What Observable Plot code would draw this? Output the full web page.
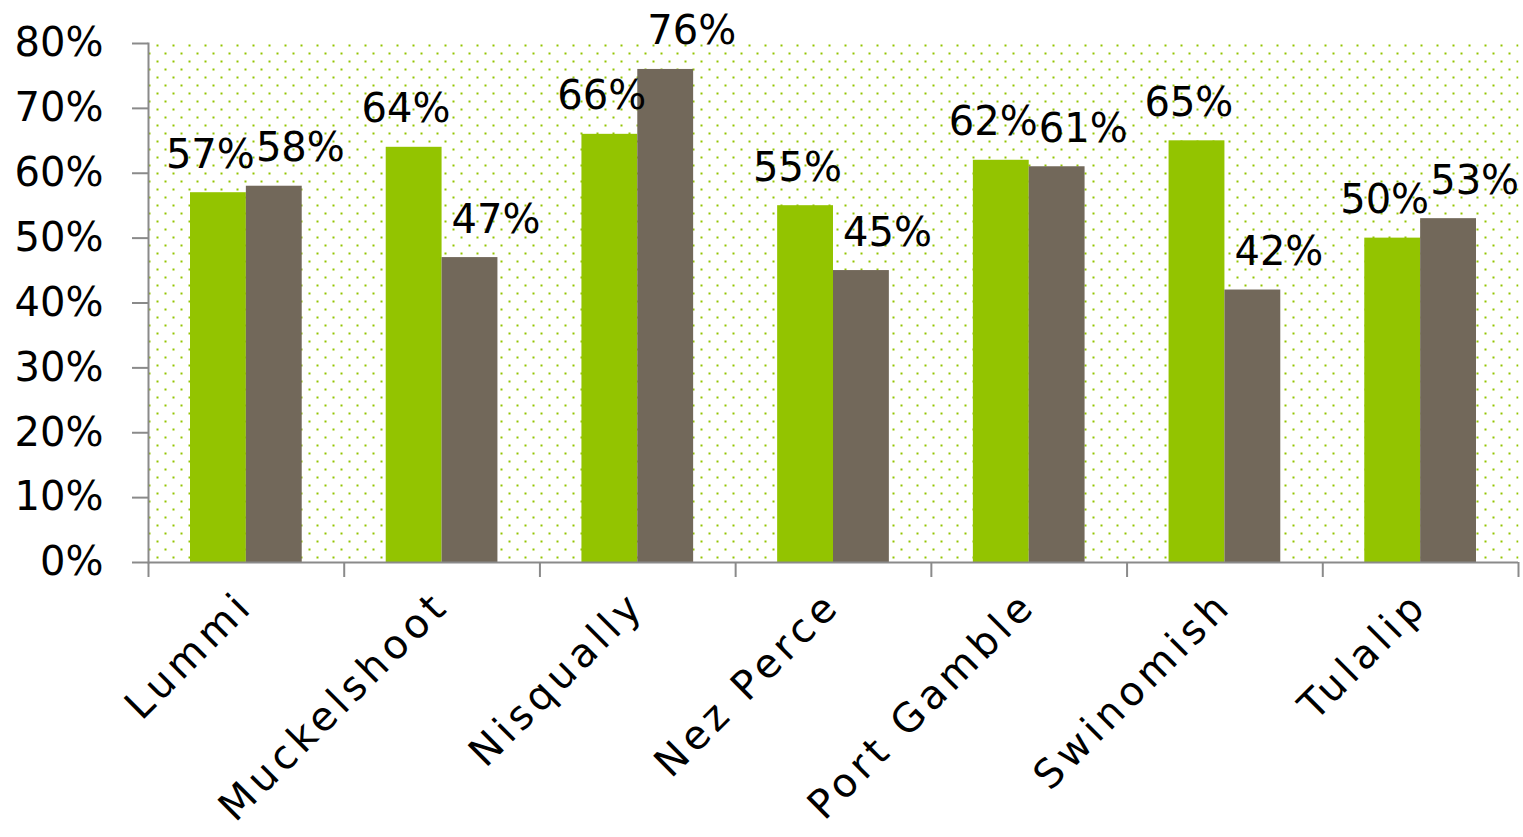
<!DOCTYPE html>
<html>
<head>
<meta charset="utf-8">
<script src="https://cdn.jsdelivr.net/npm/d3@7"></script>
<script src="https://cdn.jsdelivr.net/npm/@observablehq/plot@0.6"></script>
<style>
  html, body { margin: 0; padding: 0; background: #fff; }
  #chart svg { display: block; }
  #chart g[aria-label="x-axis tick label"] text { letter-spacing: 5px; }
  #dots rect { shape-rendering: crispEdges; }
</style>
</head>
<body>
<div id="chart"></div>
<script>
const tribes = ["Lummi", "Muckelshoot", "Nisqually", "Nez Perce", "Port Gamble", "Swinomish", "Tulalip"];
const seriesNames = ["Series A", "Series B"];
const seriesA = [57, 64, 66, 55, 62, 65, 50];
const seriesB = [58, 47, 76, 45, 61, 42, 53];
const yTicks = [0, 10, 20, 30, 40, 50, 60, 70, 80];

const W = 1523, H = 837;
const mL = 148, mR = 5, mT = 43, mB = 275;
const bw = (W - mL - mR) / tribes.length;
const outer = 42;
const green = "#93c400";
const brown = "#72685a";
const gray = "#8a8a8a";
const font = "DejaVu Sans, sans-serif";

const rows = [];
tribes.forEach((t, i) => {
  rows.push({tribe: t, series: seriesNames[0], value: seriesA[i]});
  rows.push({tribe: t, series: seriesNames[1], value: seriesB[i]});
});
const rowsA = rows.filter(d => d.series === seriesNames[0]);
const rowsB = rows.filter(d => d.series === seriesNames[1]);

const chart = Plot.plot({
  width: W, height: H,
  marginLeft: mL, marginRight: mR, marginTop: mT, marginBottom: mB,
  style: {fontFamily: font, background: "#fff", color: "#000"},
  x: {domain: tribes, padding: 0, round: false, label: null},
  y: {domain: [0, 80], label: null},
  marks: [
    Plot.frame({fill: "url(#dots)", stroke: "none"}),
    Plot.barY(rowsA, {x: "tribe", y: "value", fill: green, insetLeft: outer, insetRight: bw / 2}),
    Plot.barY(rowsB, {x: "tribe", y: "value", fill: brown, insetLeft: bw / 2, insetRight: outer}),
    Plot.frame({anchor: "left", stroke: gray, strokeWidth: 2}),
    Plot.ruleY([0], {stroke: gray, strokeWidth: 2}),
    Plot.ruleX(tribes, {x: d => d, dx: -bw / 2, insetTop: H - mT - mB, insetBottom: -15, stroke: gray, strokeWidth: 2}),
    Plot.ruleX(tribes.slice(-1), {x: d => d, dx: bw / 2, insetTop: H - mT - mB, insetBottom: -15, stroke: gray, strokeWidth: 2}),
    Plot.axisY({ticks: yTicks, tickSize: 16, tickPadding: 29, tickFormat: d => d + "%", fontSize: 40, stroke: gray, strokeWidth: 2, fill: "#000", label: null}),
    Plot.axisX({tickSize: 0, tickRotate: -45, tickPadding: 36, fontSize: 40, fill: "#000", label: null}),
    Plot.text(rowsA, {x: "tribe", y: "value", text: d => d.value + "%", dx: -36, dy: -25, lineAnchor: "bottom", fontSize: 40, fill: "#000"}),
    Plot.text(rowsB, {x: "tribe", y: "value", text: d => d.value + "%", dx: 54, dy: -25, lineAnchor: "bottom", fontSize: 40, fill: "#000"})
  ]
});

const ns = "http://www.w3.org/2000/svg";
const defs = document.createElementNS(ns, "defs");
const pat = document.createElementNS(ns, "pattern");
pat.setAttribute("id", "dots");
pat.setAttribute("patternUnits", "userSpaceOnUse");
pat.setAttribute("x", 156);
pat.setAttribute("y", 44);
pat.setAttribute("width", 16);
pat.setAttribute("height", 16);
[[0, 0], [8, 8]].forEach(([px, py]) => {
  const r = document.createElementNS(ns, "rect");
  r.setAttribute("x", px);
  r.setAttribute("y", py);
  r.setAttribute("width", 2);
  r.setAttribute("height", 2);
  r.setAttribute("fill", green);
  pat.appendChild(r);
});
defs.appendChild(pat);
chart.insertBefore(defs, chart.firstChild);
document.getElementById("chart").appendChild(chart);
</script>
</body>
</html>
